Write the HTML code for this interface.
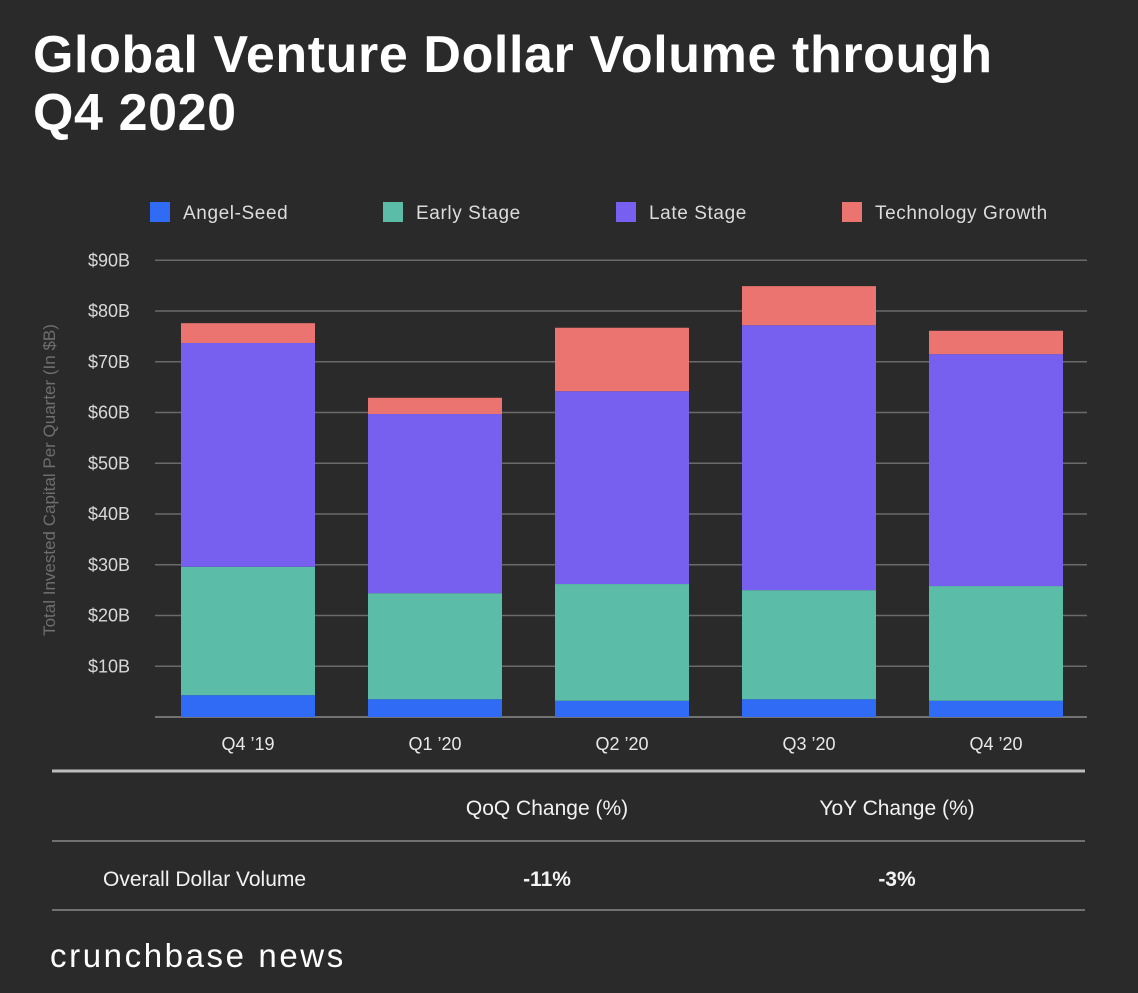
<!DOCTYPE html>
<html><head><meta charset="utf-8"><style>
body{margin:0;background:#2a2a2a;width:1138px;height:993px;overflow:hidden;font-family:"Liberation Sans",sans-serif;color:#fff}
#title{position:absolute;left:33px;top:26px;font-size:52px;font-weight:bold;line-height:58px;letter-spacing:0.6px}
</style></head><body>
<div id="title">Global Venture Dollar Volume through<br>Q4 2020</div>
<svg id="chart" width="1138" height="993" style="position:absolute;left:0;top:0"></svg>
<script>
const categories=["Q4 '19","Q1 '20","Q2 '20","Q3 '20","Q4 '20"];
const seriesNames=["Angel-Seed","Early Stage","Late Stage","Technology Growth"];
const angelSeed=[4.3,3.5,3.2,3.5,3.2];
const earlyStage=[25.3,20.9,23.0,21.5,22.6];
const lateStage=[44.1,35.3,38.0,52.2,45.7];
const techGrowth=[3.9,3.2,12.5,7.7,4.6];
const yTicks=[10,20,30,40,50,60,70,80,90];
const colors=["#2f6bf5","#5bbda8","#7760f0","#ec7470"];
const ns="http://www.w3.org/2000/svg",svg=document.getElementById('chart');
function mk(t,a,p){const e=document.createElementNS(ns,t);for(const k in a)e.setAttribute(k,a[k]);(p||svg).appendChild(e);return e;}
const y0=717,pxPer=5.075,x0=181,step=187,bw=134;
const yScale=v=>y0-v*pxPer, xScale=i=>x0+i*step;
yTicks.forEach(v=>{
 const l=mk('line',{x1:155,x2:1087,y1:yScale(v),y2:yScale(v),stroke:'#6a6a6a','stroke-width':1.5});
 
 
 const t=mk('text',{x:130,y:yScale(v)+6,'text-anchor':'end','font-size':18,fill:'#d8d8d8'});
 t.textContent='$'+v+'B';
 
 
});
const base=mk('line',{x1:155,x2:1087,y1:y0,y2:y0,stroke:'#8a8a8a','stroke-width':1.5});


const series=[angelSeed,earlyStage,lateStage,techGrowth];
categories.forEach((c,i)=>{
 let acc=0;
 series.forEach((s,j)=>{
  const r=mk('rect',{x:xScale(i),y:yScale(acc+s[i]),width:bw,height:s[i]*pxPer,fill:colors[j]});
  
  
  acc+=s[i];
 });
 const t=mk('text',{x:xScale(i)+bw/2,y:750,'text-anchor':'middle','font-size':18,fill:'#e8e8e8'});
 t.textContent=c.replace("'","\u2019");
 
 
});
const lx=[150,383,616,842];
seriesNames.forEach((n,j)=>{
 const g=mk('g',{});
 
 
 mk('rect',{x:lx[j],y:202,width:20,height:20,fill:colors[j]},g);
 const t=mk('text',{x:lx[j]+33,y:219,'font-size':19,fill:'#dcdcdc','letter-spacing':0.6},g);t.textContent=n;
});
const yt=mk('text',{transform:'translate(55,480) rotate(-90)','text-anchor':'middle','font-size':17,fill:'#6e6e6e'});
yt.textContent='Total Invested Capital Per Quarter (In $B)';


const sep=[[771,3,'#bdbdbd'],[841,1.2,'#9a9a9a'],[910,1.2,'#9a9a9a']];
sep.forEach(s=>{const l=mk('line',{x1:52,x2:1085,y1:s[0],y2:s[0],stroke:s[2],'stroke-width':s[1]});
 });
const cells=[[547,815,'QoQ Change (%)','middle','normal'],[897,815,'YoY Change (%)','middle','normal'],[103,886,'Overall Dollar Volume','start','normal'],[547,886,'-11%','middle','bold'],[897,886,'-3%','middle','bold']];
cells.forEach(c=>{const t=mk('text',{x:c[0],y:c[1],'text-anchor':c[3],'font-size':21,'font-weight':c[4],fill:'#f2f2f2'});t.textContent=c[2];
 });
const logo=mk('text',{x:50,y:967,'font-size':33,fill:'#ffffff','letter-spacing':2.6});
logo.textContent='crunchbase news';


</script>
</body></html>
